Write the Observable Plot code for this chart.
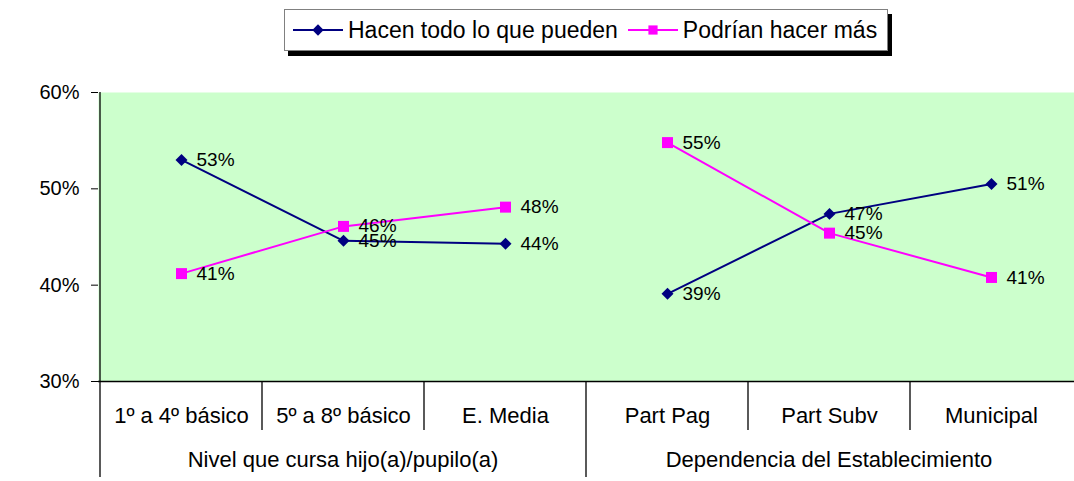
<!DOCTYPE html>
<html>
<head>
<meta charset="utf-8">
<script src="https://cdn.jsdelivr.net/npm/d3@7"></script>
<script src="https://cdn.jsdelivr.net/npm/@observablehq/plot@0.6"></script>
<style>
  html, body { margin: 0; padding: 0; background: #ffffff; }
  body { font-family: "Liberation Sans", Arial, sans-serif; color: #000; }
  #wrap { position: relative; width: 1074px; height: 481px; overflow: hidden; }
  #legend {
    position: absolute; left: 284px; top: 9px; height: 42px; box-sizing: border-box;
    border: 1px solid #808080; background: #fff; box-shadow: 4px 5px 0 #000;
    display: flex; align-items: center; padding: 0 10px 0 8px; white-space: nowrap;
    font-size: 23px;
  }
  .item { display: flex; align-items: center; }
  .item + .item { margin-left: 10px; }
  .item svg { margin-right: 5px; }
</style>
</head>
<body>
<div id="wrap">
  <div id="chart"></div>
  <div id="legend"></div>
</div>
<script>
// ---- data ----
const categories = ["1º a 4º básico", "5º a 8º básico", "E. Media", "Part Pag", "Part Subv", "Municipal"];
const groupNames = ["Nivel que cursa hijo(a)/pupilo(a)", "Dependencia del Establecimiento"];
const groupOfCategory = [0, 0, 0, 1, 1, 1];
const seriesNames = ["Hacen todo lo que pueden", "Podrían hacer más"];
const hacen = [53.0, 44.6, 44.3, 39.1, 47.4, 50.5];
const podrian = [41.2, 46.1, 48.1, 54.8, 45.4, 40.8];
const yTicks = [30, 40, 50, 60];

// ---- styles ----
const colors = ["#000080", "#FF00FF"];
const symbols = ["diamond2", "square"];
const radii = [5.4, 6.2];

const rows = [];
[hacen, podrian].forEach((vals, s) => vals.forEach((v, i) => rows.push({
  series: seriesNames[s], s, cat: categories[i], group: groupOfCategory[i], value: v
})));

const chart = Plot.plot({
  width: 1074, height: 481,
  marginTop: 92, marginBottom: 100, marginLeft: 98, marginRight: 0,
  style: { fontFamily: "'Liberation Sans', Arial, sans-serif", color: "#000", background: "transparent" },
  x: { type: "point", domain: categories, padding: 0.5 },
  y: { domain: [30, 60] },
  color: { domain: seriesNames, range: colors },
  symbol: { domain: seriesNames, range: symbols },
  marks: [
    Plot.frame({ fill: "#CCFFCC", stroke: "none" }),
    Plot.ruleY([30], { stroke: "#000", strokeWidth: 1.3 }),
    Plot.axisY({ ticks: yTicks, tickFormat: d => d + "%", tickSize: 7, tickPadding: 12, fontSize: 20, label: null, stroke: "#000" }),
    Plot.axisX({ tickSize: 0, tickPadding: 26, fontSize: 22, label: null }),
    Plot.line(rows, { x: "cat", y: "value", z: d => d.series + "|" + d.group, stroke: "series", strokeWidth: 2 }),
    ...seriesNames.map((name, s) =>
      Plot.dot(rows.filter(d => d.s === s), { x: "cat", y: "value", symbol: "series", fill: "series", stroke: "none", r: radii[s] })
    ),
    Plot.text(rows, { x: "cat", y: "value", text: d => Math.round(d.value) + "%", textAnchor: "start", dx: 15, fontSize: 19, fill: "#000" })
  ]
});
document.getElementById("chart").appendChild(chart);

// ---- category table below the plot, positioned through the Plot scales ----
const xs = chart.scale("x"), ys = chart.scale("y");
const xPos = categories.map(c => xs.apply(c));
const step = xPos[1] - xPos[0];
const yTop = ys.apply(60), yBot = ys.apply(30);
const svg = d3.select(chart);
const g = svg.append("g").attr("stroke", "#000").attr("stroke-width", 1.3);
g.append("line").attr("x1", xPos[0] - step / 2).attr("x2", xPos[0] - step / 2).attr("y1", yTop).attr("y2", yBot + 96);
for (let i = 1; i < categories.length; i++) {
  const bx = xPos[i] - step / 2;
  const isGroupBreak = groupOfCategory[i] !== groupOfCategory[i - 1];
  g.append("line").attr("x1", bx).attr("x2", bx).attr("y1", yBot).attr("y2", yBot + (isGroupBreak ? 96 : 49));
}
groupNames.forEach((name, gi) => {
  const idx = groupOfCategory.map((v, i) => v === gi ? i : -1).filter(i => i >= 0);
  const cx = (xPos[idx[0]] + xPos[idx[idx.length - 1]]) / 2;
  svg.append("text").attr("x", cx).attr("y", yBot + 86).attr("text-anchor", "middle")
    .attr("font-size", 22).attr("fill", "#000").text(name);
});

// ---- legend ----
const legend = d3.select("#legend");
seriesNames.forEach((name, s) => {
  const item = legend.append("div").attr("class", "item");
  const sv = item.append("svg").attr("width", 50).attr("height", 16);
  sv.append("line").attr("x1", 0).attr("x2", 50).attr("y1", 8).attr("y2", 8).attr("stroke", colors[s]).attr("stroke-width", 2);
  const sym = s === 0 ? d3.symbolDiamond2 : d3.symbolSquare;
  const size = Math.PI * radii[s] * radii[s] * (s === 0 ? 0.9 : 0.7);
  sv.append("path").attr("transform", "translate(25,8)").attr("d", d3.symbol(sym, size)()).attr("fill", colors[s]);
  item.append("span").text(name);
});
</script>
</body>
</html>
